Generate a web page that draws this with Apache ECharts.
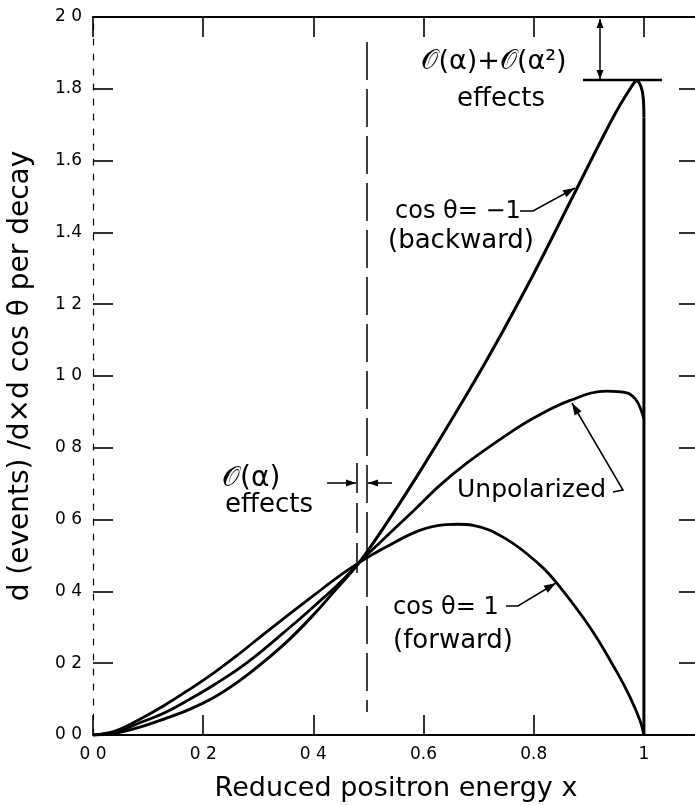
<!DOCTYPE html>
<html><head><meta charset="utf-8">
<script src="https://cdn.jsdelivr.net/npm/echarts@6/dist/echarts.min.js"></script>
<style>html,body{margin:0;padding:0;background:#fff}#c{width:695px;height:805px}</style>
</head><body><div id="c"></div>
<script>
// ---- data ----
const xTickValues = [0, 0.2, 0.4, 0.6, 0.8, 1.0];
const xTickLabels = ['0 0', '0 2', '0 4', '0.6', '0.8', '1'];
const yTickValues = [0, 0.2, 0.4, 0.6, 0.8, 1.0, 1.2, 1.4, 1.6, 1.8, 2.0];
const yTickLabels = ['0 0', '0 2', '0 4', '0 6', '0 8', '1 0', '1 2', '1.4', '1.6', '1.8', '2 0'];

const forwardX = [0, 0.04, 0.085, 0.13, 0.176, 0.22, 0.261, 0.31, 0.3575, 0.40, 0.44, 0.483, 0.53, 0.593, 0.64, 0.662, 0.69, 0.751, 0.811, 0.842, 0.902, 0.951, 0.975, 0.993, 1.0];
const forwardY = [0, 0.011, 0.044, 0.083, 0.128, 0.174, 0.221, 0.281, 0.338, 0.388, 0.435, 0.480, 0.522, 0.570, 0.586, 0.587, 0.584, 0.545, 0.474, 0.423, 0.300, 0.175, 0.105, 0.040, 0.0];

const unpolX = [0, 0.04, 0.085, 0.13, 0.176, 0.22, 0.281, 0.3575, 0.408, 0.45, 0.483, 0.52, 0.58, 0.63, 0.679, 0.751, 0.80, 0.866, 0.933, 0.969, 0.985, 0.995, 1.0];
const unpolY = [0, 0.008, 0.034, 0.062, 0.100, 0.140, 0.203, 0.300, 0.368, 0.427, 0.480, 0.535, 0.622, 0.696, 0.758, 0.836, 0.883, 0.932, 0.958, 0.953, 0.935, 0.905, 0.88];

const backwardX = [0, 0.04, 0.085, 0.13, 0.176, 0.22, 0.265, 0.307, 0.3575, 0.401, 0.44, 0.483, 0.545, 0.606, 0.675, 0.726, 0.80, 0.871, 0.944, 0.975, 0.987, 0.995, 0.999, 1.0];
const backwardY = [0, 0.005, 0.022, 0.045, 0.072, 0.105, 0.150, 0.200, 0.268, 0.336, 0.404, 0.480, 0.618, 0.765, 0.940, 1.075, 1.285, 1.500, 1.720, 1.800, 1.822, 1.805, 1.770, 1.720];

const edgeX = [1.0, 1.0];
const edgeY = [1.72, 0];

// ---- chart ----
const zip = (xs, ys) => xs.map((x, i) => [x, ys[i]]);
const FONT = 'DejaVu Sans';
const chart = echarts.init(document.getElementById('c'), null, {renderer: 'canvas'});

function tickLabel(vals, labels) {
  return v => {
    const i = vals.findIndex(t => Math.abs(t - v) < 1e-6);
    return i >= 0 ? labels[i] : '';
  };
}
const lineStyleAxis = {color: '#000', width: 2};
const tick = {show: true, inside: true, length: 20, lineStyle: {color: '#000', width: 1.6}};

const curve = (name, xs, ys, w) => ({
  name, type: 'line', data: zip(xs, ys), showSymbol: false, symbol: 'none',
  smooth: 0.4, xAxisIndex: 0, yAxisIndex: 0,
  lineStyle: {color: '#000', width: w}, z: 5
});

const option = {
  animation: false,
  backgroundColor: '#fff',
  grid: {left: 93, top: 17, width: 606, height: 718, containLabel: false, outerBoundsMode: 'none'},
  xAxis: [
    {type: 'value', min: 0, max: 1.1, interval: 0.2, position: 'bottom',
     axisLine: {show: true, onZero: false, lineStyle: lineStyleAxis}, axisTick: tick,
     splitLine: {show: false},
     axisLabel: {formatter: tickLabel(xTickValues, xTickLabels), color: '#000', fontSize: 17, fontFamily: FONT, margin: 11},
     name: 'Reduced positron energy x', nameLocation: 'middle', nameGap: 40,
     nameTextStyle: {fontSize: 27, color: '#000', fontFamily: FONT}},
    {type: 'value', min: 0, max: 1.1, interval: 0.2, position: 'top',
     axisLine: {show: true, onZero: false, lineStyle: lineStyleAxis}, axisTick: tick,
     splitLine: {show: false}, axisLabel: {show: false}}
  ],
  yAxis: [
    {type: 'value', min: 0, max: 2.0, interval: 0.2, position: 'left',
     axisLine: {show: true, onZero: false, lineStyle: {color: '#000', width: 1.2, type: [6, 9]}}, axisTick: tick,
     splitLine: {show: false},
     axisLabel: {formatter: tickLabel(yTickValues, yTickLabels), color: '#000', fontSize: 17, fontFamily: FONT, margin: 11},
     name: 'd (events) /d×d cos θ per decay', nameLocation: 'middle', nameRotate: 90, nameGap: 58,
     nameTextStyle: {fontSize: 28, color: '#000', fontFamily: FONT}},
    {type: 'value', min: 0, max: 2.0, interval: 0.2, position: 'right',
     axisLine: {show: true, onZero: false, lineStyle: lineStyleAxis}, axisTick: tick,
     splitLine: {show: false}, axisLabel: {show: false}}
  ],
  series: [
    curve('cos θ = 1 (forward)', forwardX, forwardY, 2.8),
    curve('Unpolarized', unpolX, unpolY, 2.8),
    curve('cos θ = -1 (backward)', backwardX, backwardY, 3),
    {name: 'edge', type: 'line', data: zip(edgeX, edgeY), showSymbol: false, symbol: 'none',
     lineStyle: {color: '#000', width: 3}, z: 5}
  ]
};
chart.setOption(option);

// ---- annotations (pixel layout) ----
function arrowHead(x1, y1, x2, y2, len, w) {
  const dx = x2 - x1, dy = y2 - y1, d = Math.hypot(dx, dy);
  const ux = dx / d, uy = dy / d;
  const bx = x2 - ux * len, by = y2 - uy * len;
  return {type: 'polygon', shape: {points: [[x2, y2], [bx - uy * w, by + ux * w], [bx + uy * w, by - ux * w]]},
          style: {fill: '#000'}, z: 10};
}
const pl = (pts, w, dash) => ({type: 'polyline', shape: {points: pts},
  style: {stroke: '#000', lineWidth: w, fill: null, lineDash: dash || null}, z: 10});
const txt = (s, x, y, size, align) => ({type: 'text', x, y,
  style: {text: s, fontSize: size, fontFamily: FONT, fill: '#000', textAlign: align || 'left', textVerticalAlign: 'middle'}, z: 10});

const g = [
  txt('𝒪(α)+𝒪(α²)', 494, 62, 27, 'center'),
  txt('effects', 501, 99, 26, 'center'),
  pl([[583, 80], [662, 80]], 2.5),
  pl([[600, 19], [600, 79]], 1.5),
  arrowHead(600, 40, 600, 19, 9, 3.5),
  arrowHead(600, 60, 600, 79, 9, 3.5),

  txt('cos θ= −1', 395, 212, 24),
  txt('(backward)', 388, 241, 26),
  pl([[520, 211], [533, 211], [575, 188]], 1.5),
  arrowHead(533, 211, 575, 188, 12, 4),

  txt('Unpolarized', 457, 490, 25),
  pl([[613, 492], [623, 490], [572, 403]], 1.5),
  arrowHead(623, 490, 572, 403, 12, 4),

  txt('cos θ= 1', 393, 608, 24),
  txt('(forward)', 393, 641, 26),
  pl([[506, 606], [518, 606], [556, 583]], 1.5),
  arrowHead(518, 606, 556, 583, 12, 4),

  txt('𝒪(α)', 222, 479, 28),
  txt('effects', 225, 505, 26),
  pl([[327, 483], [356, 483]], 1.5),
  arrowHead(327, 483, 356, 483, 10, 3.5),
  pl([[392, 483], [368, 483]], 1.5),
  arrowHead(392, 483, 368, 483, 10, 3.5),

  pl([[367, 42], [367, 712]], 1.5, [38, 9]),
  pl([[357, 463], [357, 582]], 1.5, [30, 10])
];
chart.setOption({graphic: {elements: g}});
</script>
</body></html>
